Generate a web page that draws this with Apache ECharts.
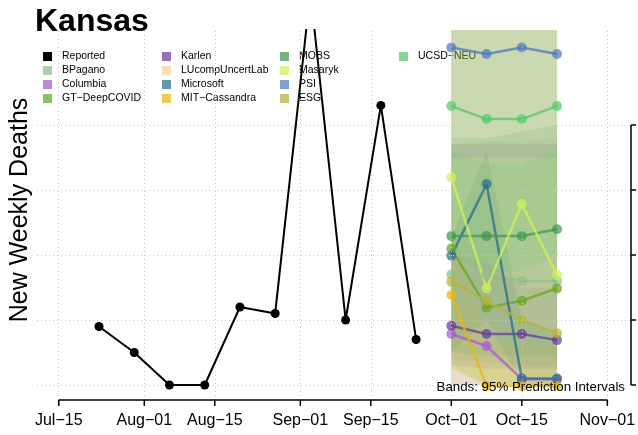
<!DOCTYPE html>
<html>
<head>
<meta charset="utf-8">
<script src="https://cdn.jsdelivr.net/npm/echarts@6/dist/echarts.min.js"></script>
<style>html,body{margin:0;padding:0;background:#fff;}#c{width:638px;height:435px;}</style>
</head>
<body>
<div id="c"></div>
<script>
// ---------- data ----------
var reportedDates = ['2020-07-23','2020-07-30','2020-08-06','2020-08-13','2020-08-20','2020-08-27','2020-09-03','2020-09-10','2020-09-17','2020-09-24'];
var reportedValues = [18, 10, 0, 0, 24, 22, 121, 20, 86, 14];
var forecastDates = ['2020-10-01','2020-10-08','2020-10-15','2020-10-22'];

var modelNames = ['BPagano','Columbia','GT\u2212DeepCOVID','Karlen','LUcompUncertLab','Microsoft','MIT\u2212Cassandra','MOBS','Masaryk','PSI','ESG','UCSD\u2212NEU'];
var modelColors = ['#8fbc8f','#a65bd6','#69a521','#6a3d9a','#fbd38c','#2b6f8a','#e6b80c','#3f9a4f','#cdf357','#4f78bc','#b2b63a','#55c66a'];

// point forecasts
var BPagano   = [34, 33.8, 32, 32];
var Columbia  = [15.7, 12, 1.8, 1.8];
var GTDeep    = [42, 23.8, 25.9, 29.7];
var Karlen    = [18.2, 15.7, 15.7, 13.8];
var LUcomp    = [];
var Microsoft = [39.8, 61.8, 2, 2];
var MIT       = [27.7, -0.3, -0.3, -0.3];
var MOBS      = [45.8, 45.8, 45.8, 47.9];
var Masaryk   = [63.9, 29.7, 55.7, 33.8];
var PSI       = [103.8, 101.8, 103.8, 101.8];
var ESG       = [31.8, 25.9, 20, 15.9];
var UCSD      = [85.8, 81.8, 81.8, 85.8];
var modelValues = [BPagano, Columbia, GTDeep, Karlen, LUcomp, Microsoft, MIT, MOBS, Masaryk, PSI, ESG, UCSD];

// 95% interval bands (lower / upper), estimated
var bandLower = [
  [8,7,6,6],[0,0,0,0],[5,0,0,0],[6,5,5,5],[0,0,0,0],[10,20,0,0],
  [6,0,0,0],[10,9,9,9],[5,0,0,0],[70,70,70,70],[0,0,0,0],[40,35,35,40]
];
var bandUpper = [
  [74,75,75,76],[40,38,30,30],[150,150,150,150],[74,74,74,74],[6,6,6,6],[45,72,20,15],
  [50,14,12,12],[76,76,78,80],[150,150,150,150],[150,150,150,150],[150,150,150,150],[72,68,68,72]
];

var tickDates  = ['2020-07-15','2020-08-01','2020-08-15','2020-09-01','2020-09-15','2020-10-01','2020-10-15','2020-11-01'];
var tickLabels = ['Jul\u221215','Aug\u221201','Aug\u221215','Sep\u221201','Sep\u221215','Oct\u221201','Oct\u221215','Nov\u221201'];
var yTicks = [0, 20, 40, 60, 80];

// ---------- helpers ----------
function dayNum(s){ var p=s.split('-'); return (Date.UTC(+p[0],+p[1]-1,+p[2]) - Date.UTC(2020,6,15))/86400000; }
var tickDays = tickDates.map(dayNum);
var xMin = -4.32, xMax = 113.71;
var yMin = -4.62, yMax = 109.2;
var fDays = forecastDates.map(dayNum);

var series = [];

// gridlines
var gridData = [];
yTicks.forEach(function(v){ gridData.push([{coord:[xMin, v]},{coord:[xMax, v]}]); });
tickDays.forEach(function(d){ gridData.push([{coord:[d, yMin]},{coord:[d, yMax]}]); });
series.push({
  type:'line', data:[], silent:true, z:1,
  markLine:{ silent:true, symbol:'none', label:{show:false}, animation:false,
    lineStyle:{color:'#c8c8c8', type:[1,3], width:1}, data: gridData }
});
// axis lines
var axData = [
  [{coord:[tickDays[0], yMin]},{coord:[tickDays[tickDays.length-1], yMin]}],
  [{coord:[xMax, yTicks[0]]},{coord:[xMax, yTicks[yTicks.length-1]]}]
];
series.push({
  type:'line', data:[], silent:true, z:6,
  markLine:{ silent:true, symbol:'none', label:{show:false}, animation:false,
    lineStyle:{color:'#000', type:'solid', width:1.5}, data: axData }
});
// x ticks (below the axis line)
series.push({
  type:'custom', silent:true, z:6, clip:false,
  data: tickDays.map(function(d){return [d, yMin];}),
  encode:{x:0, y:1},
  renderItem:function(params, api){
    var p = api.coord([api.value(0), api.value(1)]);
    return {type:'line', shape:{x1:p[0], y1:p[1], x2:p[0], y2:p[1]+6}, style:{stroke:'#000', lineWidth:1.5}};
  }
});

// bands
modelNames.forEach(function(name, i){
  var lo = bandLower[i], hi = bandUpper[i], col = modelColors[i];
  series.push({
    type:'custom', name:name+'_band', silent:true, z:2, clip:true,
    data:[[fDays[0], 0]],
    renderItem:function(params, api){
      var pts = [];
      for (var k=0;k<fDays.length;k++) pts.push(api.coord([fDays[k], hi[k]]));
      for (var k=fDays.length-1;k>=0;k--) pts.push(api.coord([fDays[k], lo[k]]));
      pts = echarts.graphic.clipPointsByRect(pts, params.coordSys);
      return {type:'polygon', shape:{points:pts}, style:{fill:col, opacity:0.15}};
    }
  });
});

// reported
series.push({
  type:'line', name:'Reported', z:5,
  data: reportedDates.map(function(d,i){return [dayNum(d), reportedValues[i]];}),
  symbol:'circle', symbolSize:9,
  lineStyle:{color:'#000', width:2}, itemStyle:{color:'#000'}
});

// forecasts
modelNames.forEach(function(name, i){
  series.push({
    type:'line', name:name, z:4,
    data: modelValues[i].map(function(v,k){return [fDays[k], v];}),
    symbol:'circle', symbolSize:10,
    lineStyle:{color:modelColors[i], width:2.5, opacity:0.75},
    itemStyle:{color:modelColors[i], opacity:0.72}
  });
});

var allNames = ['Reported'].concat(modelNames);
function legendCol(names, left){
  return {
    data:names, left:left, top:45.5, orient:'vertical', icon:'rect', itemWidth:9, itemHeight:9,
    itemGap:2, z:1, selectedMode:false,
    textStyle:{fontFamily:'Liberation Sans', fontSize:10.5, color:'#000', lineHeight:12, padding:[0,0,0,5]}
  };
}

var option = {
  animation:false,
  backgroundColor:'#fff',
  title:[
    {text:'Kansas', left:30, top:1, textStyle:{fontFamily:'Liberation Sans', fontWeight:'bold', fontSize:32, color:'#000'}},
    {text:'Bands: 95% Prediction Intervals', right:8, top:376, textStyle:{fontFamily:'Liberation Sans', fontWeight:'normal', fontSize:13.3, color:'#000'}, z:10}
  ],
  legend:[
    legendCol(allNames.slice(0,4), 38),
    legendCol(allNames.slice(4,8), 157),
    legendCol(allNames.slice(8,12), 275),
    legendCol(allNames.slice(12,13), 394)
  ],
  grid:{left:33, right:4, top:30, bottom:35},
  xAxis:{
    type:'value', min:xMin, max:xMax,
    axisLine:{show:false}, splitLine:{show:false}, axisTick:{show:false},
    axisLabel:{show:true, customValues:tickDays, margin:13, fontFamily:'Liberation Sans', fontSize:16, color:'#000',
      formatter:function(v){ var i=tickDays.indexOf(v); return i>=0?tickLabels[i]:''; }}
  },
  yAxis:[
    {type:'value', min:yMin, max:yMax, position:'left',
     axisLine:{show:false}, axisTick:{show:false}, axisLabel:{show:false}, splitLine:{show:false},
     name:'New Weekly Deaths', nameLocation:'middle', nameGap:4,
     nameTextStyle:{fontFamily:'Liberation Sans', fontSize:25, color:'#000', padding:[0,0,0,10]}},
    {type:'value', min:yMin, max:yMax, position:'right',
     axisLine:{show:false}, splitLine:{show:false}, axisLabel:{show:false},
     axisTick:{show:true, customValues:yTicks, length:5, lineStyle:{color:'#000', width:1.5}}}
  ],
  series:series
};
var chart = echarts.init(document.getElementById('c'), null, {renderer:'canvas'});
chart.setOption(option);
</script>
</body>
</html>
